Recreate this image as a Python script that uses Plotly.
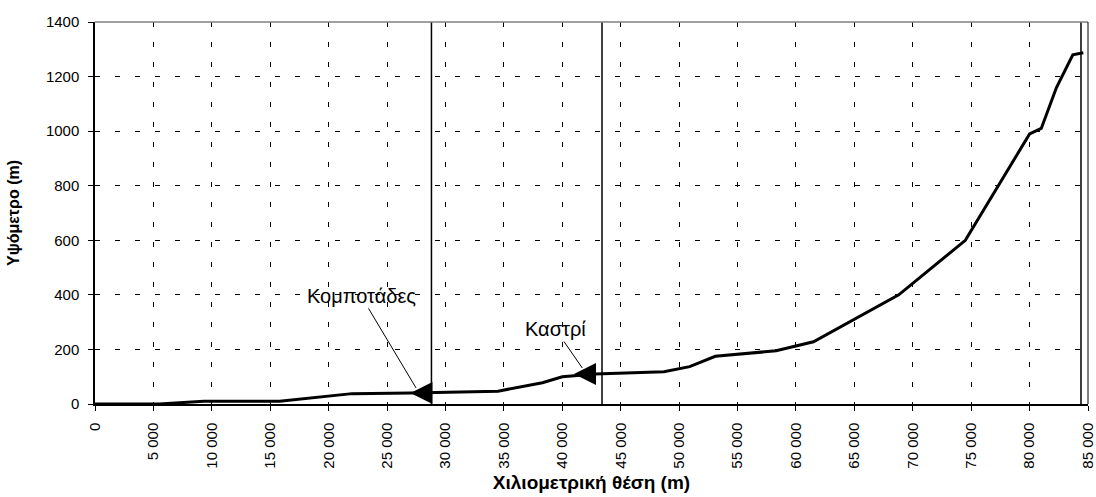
import plotly.graph_objects as go

# longitudinal profile: chainage (m) and elevation (m)
chainage = [0, 5500, 9300, 15800, 22000, 27000, 34500, 38300, 40000, 42800,
            48700, 50900, 53100, 58300, 61500, 68800, 74500, 80000, 81000,
            82300, 83700, 84600]
elevation = [0, 0, 10, 10, 38, 40, 47, 78, 100, 110,
             118, 137, 175, 195, 228, 400, 600, 990, 1010,
             1160, 1280, 1287]

# section boundaries (vertical lines)
boundaries = [28800, 43400, 84400]

# labelled places: name, arrow tip (x, y), leader line end (x, y)
places = ["Κομποτάδες", "Καστρί"]
tip_x = [27000, 41000]
tip_y = [40, 110]
leader_x = [27480, 41710]
leader_y = [59, 132]

FONT = "Liberation Sans, Arial, sans-serif"

fig = go.Figure()

fig.add_trace(
    go.Scatter(
        x=chainage,
        y=elevation,
        mode="lines",
        line=dict(color="black", width=3),
        showlegend=False,
        hoverinfo="skip",
    )
)

for b in boundaries:
    fig.add_shape(type="line", xref="x", yref="paper", x0=b, x1=b, y0=0, y1=1,
                  line=dict(color="black", width=1.5))

# frame: grey top, black right
fig.add_shape(type="line", xref="paper", yref="paper", x0=0, x1=1, y0=1, y1=1,
              line=dict(color="#808080", width=1.5))
fig.add_shape(type="line", xref="paper", yref="paper", x0=1, x1=1, y0=0, y1=1,
              line=dict(color="black", width=1))

offsets = [(-55, -92), (-27, -39)]
for name, tx, ty, lx, ly, (ax, ay) in zip(places, tip_x, tip_y, leader_x, leader_y, offsets):
    # leader line from label
    fig.add_annotation(
        x=lx, y=ly, text=name, showarrow=True, arrowhead=0, arrowwidth=1,
        arrowcolor="black", ax=ax, ay=ay,
        font=dict(family=FONT, size=20, color="black"),
    )
    # left-pointing filled head
    fig.add_annotation(
        x=tx, y=ty, text="", showarrow=True, arrowhead=2, arrowsize=4.4,
        arrowwidth=1, arrowcolor="black", ax=18, ay=0,
    )

fig.update_layout(
    width=1096,
    height=497,
    margin=dict(l=95, r=8, t=22, b=93, autoexpand=False),
    plot_bgcolor="white",
    paper_bgcolor="white",
    separators=", ",
    font=dict(family=FONT, size=15, color="black"),
    xaxis=dict(
        range=[0, 85000],
        tick0=0,
        dtick=5000,
        tickformat=",d",
        tickangle=-90,
        ticks="outside",
        ticklen=5,
        tickcolor="black",
        ticklabelstandoff=6,
        ticklabeloverflow="allow",
        automargin=False,
        showline=True,
        linecolor="black",
        linewidth=1.5,
        showgrid=True,
        gridcolor="black",
        gridwidth=1,
        griddash="5px,15px",
        zeroline=False,
        title=dict(text="<b>Χιλιομετρική θέση (m)</b>", font=dict(size=19), standoff=8),
    ),
    yaxis=dict(
        range=[0, 1400],
        dtick=200,
        tickformat="d",
        ticks="outside",
        ticklen=5,
        tickcolor="black",
        ticklabelstandoff=6,
        ticklabeloverflow="allow",
        automargin=False,
        showline=True,
        linecolor="black",
        linewidth=1.5,
        showgrid=True,
        gridcolor="black",
        gridwidth=1,
        griddash="5px,15px",
        zeroline=False,
        title=dict(text="<b>Υψόμετρο (m)</b>", font=dict(size=16), standoff=22),
    ),
)

# drop the page's default body margin so the figure fills the window exactly
fig.write_html(
    "out.html",
    config={"displayModeBar": False},
    post_script="document.body.style.margin='0';document.body.style.overflow='hidden';",
)
